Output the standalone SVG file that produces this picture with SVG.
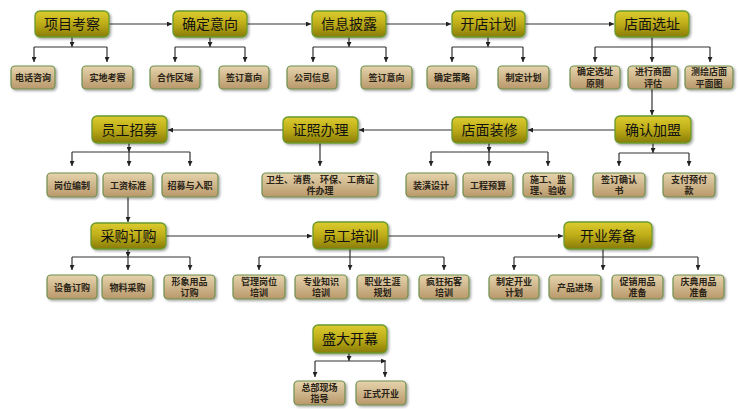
<svg xmlns="http://www.w3.org/2000/svg" width="738" height="409" viewBox="0 0 738 409">
<defs>
<linearGradient id="gMain" x1="0" y1="0" x2="0" y2="1">
<stop offset="0" stop-color="#dccc30"/>
<stop offset="0.5" stop-color="#bdac17"/>
<stop offset="1" stop-color="#887b08"/>
</linearGradient>
<linearGradient id="gSub" x1="0" y1="0" x2="0" y2="1">
<stop offset="0" stop-color="#e6d4ad"/>
<stop offset="1" stop-color="#b8986a"/>
</linearGradient>
<filter id="sh" x="-10%" y="-10%" width="130%" height="140%">
<feDropShadow dx="1.5" dy="1.5" stdDeviation="1" flood-color="#000" flood-opacity="0.35"/>
</filter>
<marker id="ah" viewBox="0 0 6 6" refX="6" refY="3" markerWidth="5" markerHeight="5" orient="auto" markerUnits="userSpaceOnUse">
<path d="M0,0 L6,3 L0,6 z" fill="#222"/>
</marker>
<style>
.main{fill:url(#gMain);stroke:#6a9a2c;stroke-width:1.3;filter:url(#sh)}
.sub{fill:url(#gSub);stroke:#6e8f4e;stroke-width:1.2;filter:url(#sh)}
.mt{font-family:"Noto Sans CJK SC","Noto Sans",sans-serif;font-size:14px;fill:#111;text-anchor:middle}
.st{font-family:"Noto Sans CJK SC","Noto Sans",sans-serif;font-size:9px;font-weight:bold;fill:#2a2418;text-anchor:middle}
.c{fill:none;stroke:#333;stroke-width:1.2}
.a{fill:none;stroke:#333;stroke-width:1.2;marker-end:url(#ah)}
</style>
</defs>
<rect width="738" height="409" fill="#fff"/>
<g id="connectors">
<path class="a" d="M109,24 H172"/>
<path class="a" d="M247,24 H311"/>
<path class="a" d="M386,24 H451"/>
<path class="a" d="M525,24 H614"/>
<path class="a" d="M72,37 V47"/><path class="c" d="M34,47 H107"/><path class="a" d="M34,47 V62"/><path class="a" d="M107,47 V62"/>
<path class="a" d="M210,37 V47"/><path class="c" d="M175,47 H245"/><path class="a" d="M175,47 V62"/><path class="a" d="M245,47 V62"/>
<path class="a" d="M349,37 V47"/><path class="c" d="M313,47 H386"/><path class="a" d="M313,47 V62"/><path class="a" d="M386,47 V62"/>
<path class="a" d="M488,37 V47"/><path class="c" d="M452,47 H523"/><path class="a" d="M452,47 V62"/><path class="a" d="M523,47 V62"/>
<path class="a" d="M652,37 V62"/><path class="c" d="M595,47 H710"/><path class="a" d="M595,47 V62"/><path class="a" d="M710,47 V62"/>
<path class="a" d="M652,89 V115"/>
<path class="a" d="M615,130 H528"/>
<path class="a" d="M452,130 H359"/>
<path class="a" d="M283,130 H168"/>
<path class="a" d="M129,143 V152"/><path class="c" d="M72,152 H190"/><path class="a" d="M72,152 V166"/><path class="a" d="M129,152 V166"/><path class="a" d="M190,152 V166"/>
<path class="a" d="M320,143 V166"/>
<path class="a" d="M489,143 V152"/><path class="c" d="M431,152 H548"/><path class="a" d="M431,152 V166"/><path class="a" d="M489,152 V166"/><path class="a" d="M548,152 V166"/>
<path class="a" d="M653,143 V153"/><path class="c" d="M619,153 H689"/><path class="a" d="M619,153 V166"/><path class="a" d="M689,153 V166"/>
<path class="a" d="M128,197 V222"/>
<path class="a" d="M166,236 H312"/>
<path class="a" d="M388,236 H563"/>
<path class="a" d="M128,249 V257"/><path class="c" d="M72,257 H190"/><path class="a" d="M72,257 V270"/><path class="a" d="M128,257 V270"/><path class="a" d="M190,257 V270"/>
<path class="a" d="M350,249 V270"/><path class="c" d="M259,257 H444"/><path class="a" d="M259,257 V270"/><path class="a" d="M444,257 V270"/>
<path class="a" d="M603,249 V270"/><path class="c" d="M514,257 H698"/><path class="a" d="M514,257 V270"/><path class="a" d="M698,257 V270"/>
<path class="a" d="M349,353 V361"/><path class="c" d="M315,361 H349"/><path class="a" d="M349,361 H386"/><path class="a" d="M315,361 V377"/><path class="a" d="M385,361 V377"/>
</g>
<g id="n1"><rect class="main" x="35" y="11" width="74" height="26" rx="5"/><text class="mt" x="72" y="29">项目考察</text></g>
<g id="n2"><rect class="main" x="173" y="11" width="74" height="26" rx="5"/><text class="mt" x="210" y="29">确定意向</text></g>
<g id="n3"><rect class="main" x="312" y="11" width="74" height="26" rx="5"/><text class="mt" x="349" y="29">信息披露</text></g>
<g id="n4"><rect class="main" x="452" y="11" width="73" height="26" rx="5"/><text class="mt" x="488.5" y="29">开店计划</text></g>
<g id="n5"><rect class="main" x="615" y="11" width="74" height="26" rx="5"/><text class="mt" x="652" y="29">店面选址</text></g>
<g id="n6"><rect class="main" x="615" y="116" width="76" height="27" rx="5"/><text class="mt" x="653" y="134.5">确认加盟</text></g>
<g id="n7"><rect class="main" x="452" y="117" width="75" height="26" rx="5"/><text class="mt" x="489.5" y="135">店面装修</text></g>
<g id="n8"><rect class="main" x="283" y="117" width="75" height="26" rx="5"/><text class="mt" x="320.5" y="135">证照办理</text></g>
<g id="n9"><rect class="main" x="92" y="116" width="75" height="27" rx="5"/><text class="mt" x="129.5" y="134.5">员工招募</text></g>
<g id="n10"><rect class="main" x="91" y="223" width="75" height="26" rx="5"/><text class="mt" x="128.5" y="241">采购订购</text></g>
<g id="n11"><rect class="main" x="313" y="222" width="75" height="27" rx="5"/><text class="mt" x="350.5" y="240.5">员工培训</text></g>
<g id="n12"><rect class="main" x="564" y="222" width="88" height="27" rx="5"/><text class="mt" x="608" y="240.5">开业筹备</text></g>
<g id="n13"><rect class="main" x="313" y="325" width="74" height="28" rx="5"/><text class="mt" x="350" y="344">盛大开幕</text></g>
<g id="s1"><rect class="sub" x="11" y="66" width="44" height="23" rx="4"/><text class="st" x="33" y="81">电话咨询</text></g>
<g id="s2"><rect class="sub" x="82" y="66" width="51" height="23" rx="4"/><text class="st" x="107.5" y="81">实地考察</text></g>
<g id="s3"><rect class="sub" x="150" y="66" width="50" height="23" rx="4"/><text class="st" x="175" y="81">合作区域</text></g>
<g id="s4"><rect class="sub" x="219" y="66" width="50" height="23" rx="4"/><text class="st" x="244" y="81">签订意向</text></g>
<g id="s5"><rect class="sub" x="287" y="66" width="50" height="23" rx="4"/><text class="st" x="312" y="81">公司信息</text></g>
<g id="s6"><rect class="sub" x="361" y="66" width="51" height="23" rx="4"/><text class="st" x="386.5" y="81">签订意向</text></g>
<g id="s7"><rect class="sub" x="427" y="66" width="50" height="23" rx="4"/><text class="st" x="452" y="81">确定策略</text></g>
<g id="s8"><rect class="sub" x="498" y="66" width="51" height="23" rx="4"/><text class="st" x="523.5" y="81">制定计划</text></g>
<g id="s9"><rect class="sub" x="570" y="66" width="50" height="23" rx="4"/><text class="st" x="595" y="75">确定选址</text><text class="st" x="595" y="86.5">原则</text></g>
<g id="s10"><rect class="sub" x="628" y="66" width="50" height="23" rx="4"/><text class="st" x="653" y="75">进行商圈</text><text class="st" x="653" y="86.5">评估</text></g>
<g id="s11"><rect class="sub" x="685" y="66" width="48" height="23" rx="4"/><text class="st" x="709" y="75">测绘店面</text><text class="st" x="709" y="86.5">平面图</text></g>
<g id="s12"><rect class="sub" x="47" y="173" width="50" height="24" rx="4"/><text class="st" x="72" y="188.5">岗位编制</text></g>
<g id="s13"><rect class="sub" x="103" y="173" width="50" height="24" rx="4"/><text class="st" x="128" y="188.5">工资标准</text></g>
<g id="s14"><rect class="sub" x="162" y="173" width="56" height="24" rx="4"/><text class="st" x="190" y="188.5">招募与入职</text></g>
<g id="s15"><rect class="sub" x="262" y="173" width="116" height="24" rx="4"/><text class="st" x="320" y="182.5">卫生、消费、环保、工商证</text><text class="st" x="320" y="194">件办理</text></g>
<g id="s16"><rect class="sub" x="406" y="173" width="50" height="24" rx="4"/><text class="st" x="431" y="188.5">装潢设计</text></g>
<g id="s17"><rect class="sub" x="463" y="173" width="50" height="24" rx="4"/><text class="st" x="488" y="188.5">工程预算</text></g>
<g id="s18"><rect class="sub" x="523" y="173" width="50" height="24" rx="4"/><text class="st" x="548" y="182.5">施工、监</text><text class="st" x="548" y="194">理、验收</text></g>
<g id="s19"><rect class="sub" x="593" y="173" width="52" height="24" rx="4"/><text class="st" x="619" y="182.5">签订确认</text><text class="st" x="619" y="194">书</text></g>
<g id="s20"><rect class="sub" x="663" y="173" width="52" height="24" rx="4"/><text class="st" x="689" y="182.5">支付预付</text><text class="st" x="689" y="194">款</text></g>
<g id="s21"><rect class="sub" x="47" y="275" width="50" height="24" rx="4"/><text class="st" x="72" y="290.5">设备订购</text></g>
<g id="s22"><rect class="sub" x="102" y="275" width="51" height="24" rx="4"/><text class="st" x="127.5" y="290.5">物料采购</text></g>
<g id="s23"><rect class="sub" x="164" y="275" width="51" height="24" rx="4"/><text class="st" x="189.5" y="284.5">形象用品</text><text class="st" x="189.5" y="296">订购</text></g>
<g id="s24"><rect class="sub" x="233" y="275" width="52" height="24" rx="4"/><text class="st" x="259" y="284.5">管理岗位</text><text class="st" x="259" y="296">培训</text></g>
<g id="s25"><rect class="sub" x="295" y="275" width="52" height="24" rx="4"/><text class="st" x="321" y="284.5">专业知识</text><text class="st" x="321" y="296">培训</text></g>
<g id="s26"><rect class="sub" x="357" y="275" width="51" height="24" rx="4"/><text class="st" x="382.5" y="284.5">职业生涯</text><text class="st" x="382.5" y="296">规划</text></g>
<g id="s27"><rect class="sub" x="419" y="275" width="50" height="24" rx="4"/><text class="st" x="444" y="284.5">疯狂拓客</text><text class="st" x="444" y="296">培训</text></g>
<g id="s28"><rect class="sub" x="489" y="275" width="50" height="24" rx="4"/><text class="st" x="514" y="284.5">制定开业</text><text class="st" x="514" y="296">计划</text></g>
<g id="s29"><rect class="sub" x="549" y="275" width="52" height="24" rx="4"/><text class="st" x="575" y="290.5">产品进场</text></g>
<g id="s30"><rect class="sub" x="612" y="275" width="51" height="24" rx="4"/><text class="st" x="637.5" y="284.5">促销用品</text><text class="st" x="637.5" y="296">准备</text></g>
<g id="s31"><rect class="sub" x="673" y="275" width="51" height="24" rx="4"/><text class="st" x="698.5" y="284.5">庆典用品</text><text class="st" x="698.5" y="296">准备</text></g>
<g id="s32"><rect class="sub" x="294" y="381" width="51" height="24" rx="4"/><text class="st" x="319.5" y="390.5">总部现场</text><text class="st" x="319.5" y="402">指导</text></g>
<g id="s33"><rect class="sub" x="356" y="381" width="50" height="24" rx="4"/><text class="st" x="381" y="396.5">正式开业</text></g>
</svg>
